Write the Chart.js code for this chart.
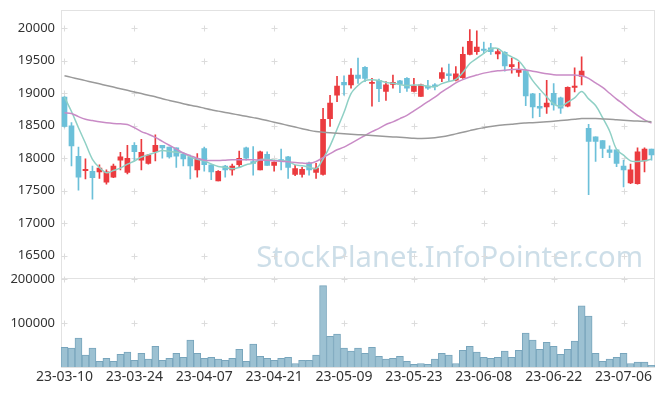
<!DOCTYPE html>
<html>
<head>
<meta charset="utf-8">
<script src="https://cdn.jsdelivr.net/npm/chart.js@4.4.0/dist/chart.umd.min.js"></script>
<style>
  html, body { margin: 0; padding: 0; background: #fff; }
  #wrap { width: 665px; height: 396px; }
</style>
</head>
<body>
<div id="wrap"><canvas id="stock-chart" width="665" height="396"></canvas></div>
<script>
// trading days shown on the chart
const dates = [
  '23-03-10','23-03-13','23-03-14','23-03-15','23-03-16','23-03-17','23-03-20','23-03-21','23-03-22','23-03-23',
  '23-03-24','23-03-27','23-03-28','23-03-29','23-03-30','23-03-31','23-04-03','23-04-04','23-04-05','23-04-06',
  '23-04-07','23-04-10','23-04-11','23-04-12','23-04-13','23-04-14','23-04-17','23-04-18','23-04-19','23-04-20',
  '23-04-21','23-04-24','23-04-25','23-04-26','23-04-27','23-04-28','23-05-02','23-05-03','23-05-04','23-05-08',
  '23-05-09','23-05-10','23-05-11','23-05-12','23-05-15','23-05-16','23-05-17','23-05-18','23-05-19','23-05-22',
  '23-05-23','23-05-24','23-05-25','23-05-26','23-05-30','23-05-31','23-06-01','23-06-02','23-06-05','23-06-07',
  '23-06-08','23-06-09','23-06-12','23-06-13','23-06-14','23-06-15','23-06-16','23-06-19','23-06-20','23-06-21',
  '23-06-22','23-06-23','23-06-26','23-06-27','23-06-28','23-06-29','23-06-30','23-07-03','23-07-04','23-07-05',
  '23-07-06','23-07-07','23-07-10','23-07-11','23-07-12'
];

const opens = [
  18940,18500,18030,17810,17800,17790,17630,17710,17970,17780,
  18200,17970,17920,18100,18200,18170,18160,18060,18020,17820,
  18150,17900,17650,17880,17820,17900,18160,17950,17820,18060,
  17890,17980,18020,17750,17750,17930,17780,17750,18610,18970,
  19170,19130,19280,19400,19150,19200,19030,19135,19190,19230,
  19030,18950,19110,19130,19230,19300,19200,19240,19600,19640,
  19680,19700,19605,19630,19410,19320,19350,18990,18800,18790,
  19000,18930,18800,19090,19260,18460,18330,18270,18130,18130,
  17880,17620,17610,17960,18140
];
const highs = [
  18950,18550,18170,17990,17880,17900,17820,17910,18090,18200,
  18240,18290,18060,18360,18200,18170,18160,18070,18050,18070,
  18170,17900,17810,17890,17910,18110,18170,18180,18110,18100,
  17945,18140,18030,17890,17860,17940,17920,18770,18970,19260,
  19270,19380,19540,19410,19230,19220,19180,19280,19200,19240,
  19230,19140,19200,19150,19390,19450,19410,19710,19980,19960,
  19790,19770,19690,19640,19540,19480,19360,19000,19000,19200,
  19150,18940,19100,19390,19560,18520,18330,18270,18190,18130,
  17970,17910,18160,18160,18140
];
const lows = [
  18480,17880,17510,17680,17370,17690,17600,17700,17820,17760,
  17960,17820,17910,17960,18000,18000,17860,17880,17680,17710,
  17800,17670,17650,17710,17740,17870,17970,17740,17820,17890,
  17800,17820,17690,17730,17710,17740,17690,17740,18490,18870,
  18970,19080,19150,19180,18800,18870,18890,19080,19010,19030,
  19020,18950,19060,19050,19180,19180,19190,19230,19590,19600,
  19610,19600,19530,19340,19310,19260,18810,18620,18640,18690,
  18740,18690,18790,19020,19130,17440,17950,18010,18010,17870,
  17560,17610,17600,17790,17970
];
const closes = [
  18490,18190,17710,17830,17700,17850,17790,17880,18020,18000,
  18100,18090,18050,18200,18160,18020,18030,17990,17880,18000,
  17900,17790,17800,17820,17880,18000,18000,17920,18100,17890,
  17940,17960,17860,17840,17830,17820,17850,18600,18850,19110,
  19130,19280,19230,19230,19170,19070,19130,19170,19140,19080,
  19110,19130,19080,19100,19320,19270,19300,19600,19800,19710,
  19660,19640,19640,19420,19440,19360,18960,18790,18770,18850,
  18820,18770,19090,19110,19340,18260,18260,18150,18090,17920,
  17820,17820,18100,18140,18050
];

// moving averages
const ma5 = [
  18940,18720,18470,18230,17984,17856,17776,17810,17848,17908,
  17958,18018,18052,18088,18120,18104,18092,18080,18016,17984,
  17960,17912,17874,17862,17838,17858,17900,17924,17980,17982,
  17970,17962,17950,17898,17886,17862,17840,17988,18190,18446,
  18708,18994,19120,19196,19208,19196,19166,19154,19136,19118,
  19126,19126,19108,19100,19148,19180,19214,19318,19458,19536,
  19614,19682,19690,19614,19560,19500,19364,19194,19064,18946,
  18838,18800,18860,18928,19026,18914,18812,18624,18420,18136,
  18048,17960,17950,17960,17986
];
const ma20 = [
  18700,18690,18640,18600,18580,18560,18545,18535,18530,18520,
  18470,18410,18370,18320,18260,18200,18140,18080,18040,18000,
  17970,17965,17965,17970,17975,17978,17978,17975,17972,17968,
  17962,17955,17945,17935,17925,17922,17950,18010,18070,18130,
  18170,18230,18290,18350,18410,18460,18520,18560,18610,18660,
  18730,18800,18870,18940,19020,19090,19160,19210,19250,19280,
  19310,19330,19345,19355,19365,19370,19360,19340,19320,19300,
  19285,19280,19280,19280,19270,19230,19160,19090,19000,18910,
  18830,18740,18660,18590,18540
];
const ma60 = [
  19270,19245,19220,19195,19170,19145,19120,19095,19070,19045,
  19020,18995,18970,18945,18915,18890,18865,18840,18815,18795,
  18770,18745,18725,18705,18685,18665,18645,18625,18605,18580,
  18555,18530,18505,18480,18455,18430,18410,18400,18392,18385,
  18378,18370,18363,18357,18350,18343,18335,18328,18322,18315,
  18308,18305,18307,18315,18330,18350,18375,18400,18425,18450,
  18470,18490,18505,18515,18525,18535,18542,18548,18555,18562,
  18570,18580,18590,18600,18610,18612,18610,18605,18600,18592,
  18585,18578,18572,18567,18563
];

const volumes = [
  45000,43000,66000,27000,43000,13000,20000,13000,29000,34000,
  15000,31000,18000,47000,15000,20000,31000,22000,61000,31000,
  20000,22000,18000,15000,20000,40000,13000,52000,24000,20000,
  15000,20000,22000,8000,15000,15000,27000,185000,70000,75000,
  43000,36000,43000,31000,45000,24000,18000,20000,24000,13000,
  6000,8000,6000,18000,31000,27000,8000,38000,47000,34000,
  22000,20000,22000,36000,22000,38000,77000,61000,40000,56000,
  47000,29000,40000,59000,139000,116000,31000,13000,18000,22000,
  31000,8000,11000,11000,4000
];

const priceTicks = [16500, 17000, 17500, 18000, 18500, 19000, 19500, 20000];
const volumeTicks = [100000, 200000];

const UP = '#eb3b3f';
const DOWN = '#6cc0d9';
const candleColor = (c) => closes[c.dataIndex] >= opens[c.dataIndex] ? UP : DOWN;

// frame, little cross grid marks and the watermark
const decor = {
  id: 'decor',
  beforeDatasetsDraw(chart) {
    const { ctx, chartArea: a, scales } = chart;
    ctx.save();

    // watermark
    const text = 'StockPlanet.InfoPointer.com';
    ctx.font = "32px 'Noto Sans'";
    const size = 32 * 387 / ctx.measureText(text).width;
    ctx.font = size + "px 'Noto Sans'";
    ctx.fillStyle = 'rgba(196,216,228,0.85)';
    ctx.textAlign = 'right';
    ctx.textBaseline = 'alphabetic';
    ctx.fillText(text, 643, 267);

    ctx.strokeStyle = '#e2e2e2';
    ctx.lineWidth = 1;
    // outer frame and pane divider
    ctx.strokeRect(a.left + 0.5, a.top + 0.5, a.width - 1, a.height);
    const divY = Math.round(scales.y2.top) + 0.5;
    ctx.beginPath();
    ctx.moveTo(a.left, divY);
    ctx.lineTo(a.right, divY);
    ctx.stroke();

    // crosses at grid intersections
    const xs = [];
    for (let i = 0; i < dates.length; i += 10) xs.push(Math.round(scales.x.getPixelForValue(i)) + 0.5);
    const ys = [];
    scales.y.ticks.forEach((t) => ys.push(Math.round(scales.y.getPixelForValue(t.value)) + 0.5));
    scales.y2.ticks.forEach((t) => ys.push(Math.round(scales.y2.getPixelForValue(t.value)) + 0.5));
    ctx.strokeStyle = '#dcdcdc';
    ctx.beginPath();
    xs.forEach((x) => ys.forEach((y) => {
      ctx.moveTo(x - 3, y); ctx.lineTo(x + 3, y);
      ctx.moveTo(x, y - 3); ctx.lineTo(x, y + 3);
    }));
    ctx.stroke();
    ctx.restore();
  }
};

Chart.defaults.font.family = "'Noto Sans', sans-serif";
Chart.defaults.font.size = 13;
Chart.defaults.color = '#333';

const lineStyle = (data, color) => ({
  type: 'line',
  data: data,
  borderColor: color,
  borderWidth: 1.5,
  pointRadius: 0,
  tension: 0.35,
  yAxisID: 'y',
  order: 0,
});

// fixed width, and no extra room asked for the end labels
const fitLeftAxis = (s) => {
  s.width = 61;
  s.paddingTop = 0;
  s.paddingBottom = 0;
};

new Chart(document.getElementById('stock-chart').getContext('2d'), {
  type: 'bar',
  data: {
    labels: dates,
    datasets: [
      lineStyle(ma60, '#9a9a9a'),
      lineStyle(ma20, '#c98bc6'),
      lineStyle(ma5, '#8fd0c5'),
      {
        label: 'body',
        data: opens.map((o, i) => [o, closes[i]]),
        backgroundColor: candleColor,
        barThickness: 5,
        grouped: false,
        yAxisID: 'y',
        order: 1,
      },
      {
        label: 'wick',
        data: lows.map((l, i) => [l, highs[i]]),
        backgroundColor: candleColor,
        barThickness: 1,
        grouped: false,
        yAxisID: 'y',
        order: 2,
      },
      {
        label: 'volume',
        data: volumes,
        backgroundColor: '#9cc1d2',
        borderColor: '#78a5bc',
        borderWidth: 1,
        barPercentage: 1,
        categoryPercentage: 1,
        grouped: false,
        yAxisID: 'y2',
        order: 3,
      },
    ],
  },
  options: {
    responsive: false,
    animation: false,
    layout: { padding: { top: 10, right: 10, left: 0, bottom: 0 } },
    plugins: { legend: { display: false }, tooltip: { enabled: false } },
    scales: {
      x: {
        grid: { display: false, drawTicks: false },
        border: { display: false },
        ticks: {
          autoSkip: false,
          maxRotation: 0,
          minRotation: 0,
          padding: 2,
          font: { size: 14 },
          callback: (v, i) => (i % 10 === 0 ? dates[i] : null),
        },
        afterFit: (s) => { s.height = 29; s.paddingLeft = 0; s.paddingRight = 0; },
      },
      // listed first so it ends up as the lower pane
      y2: {
        type: 'linear',
        position: 'left',
        stack: 'panes',
        stackWeight: 1,
        min: 0,
        max: 203000,
        grid: { display: false, drawTicks: false },
        border: { display: false },
        ticks: { padding: 6, callback: (v) => String(v) },
        afterBuildTicks: (s) => { s.ticks = volumeTicks.map((v) => ({ value: v })); },
        afterFit: fitLeftAxis,
      },
      y: {
        type: 'linear',
        position: 'left',
        stack: 'panes',
        stackWeight: 3,
        min: 16160,
        max: 20282,
        grid: { display: false, drawTicks: false },
        border: { display: false },
        ticks: { padding: 6, callback: (v) => String(v) },
        afterBuildTicks: (s) => { s.ticks = priceTicks.map((v) => ({ value: v })); },
        afterFit: fitLeftAxis,
      },
    },
  },
  plugins: [decor],
});
</script>
</body>
</html>
